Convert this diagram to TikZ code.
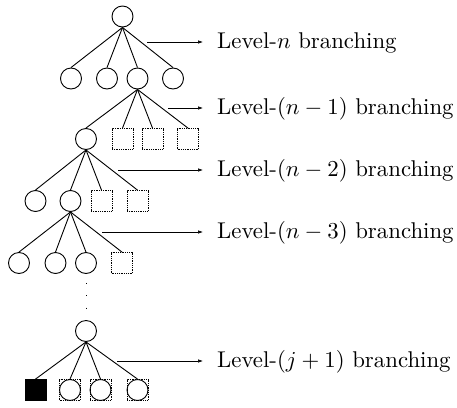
\documentclass[tikz,border=0pt]{standalone}
\usetikzlibrary{arrows.meta}
\begin{document}
\begin{tikzpicture}[x=1pt,y=-1pt,
  full/.style={circle,draw,line width=0.9pt,minimum size=21pt,inner sep=0pt},
  ghost/.style={rectangle,draw,densely dotted,line width=0.8pt,minimum size=21pt,inner sep=0pt},
  blk/.style={rectangle,draw,fill=black,line width=0.8pt,minimum size=21pt,inner sep=0pt},
  edge/.style={line width=0.9pt},
  pointer/.style={line width=0.6pt,-{Latex[length=5pt,width=3.5pt]}},
  lbl/.style={anchor=base west,inner sep=0pt}
]
\newcommand{\bigtxt}[1]{\scalebox{2.28}{\fontsize{10}{12}\selectfont #1}}
\useasboundingbox (0,0) rectangle (457,407);
% level 0
\node[full] (r) at (122.5,16.5) {};
% level 1
\node[full] (a1) at (71,78.5) {};
\node[full] (a2) at (107,78.5) {};
\node[full] (a3) at (137.5,78.5) {};
\node[full] (a4) at (173,78.5) {};
\foreach \c in {a1,a2,a3,a4} \draw[edge] (r.south) -- (\c.north);
% level 2
\node[full] (b1) at (86,139) {};
\node[ghost] (b2) at (122.5,139) {};
\node[ghost] (b3) at (152.5,139) {};
\node[ghost] (b4) at (188,139) {};
\foreach \c in {b1,b2,b3,b4} \draw[edge] (a3.south) -- (\c.north);
% level 3
\node[full] (c1) at (35.5,201) {};
\node[full] (c2) at (70.5,201) {};
\node[ghost] (c3) at (101.5,201) {};
\node[ghost] (c4) at (137.5,201) {};
\foreach \c in {c1,c2,c3,c4} \draw[edge] (b1.south) -- (\c.north);
% level 4
\node[full] (d1) at (19,263) {};
\node[full] (d2) at (55.5,263) {};
\node[full] (d3) at (86,263) {};
\node[ghost] (d4) at (122,263) {};
\foreach \c in {d1,d2,d3,d4} \draw[edge] (c2.south) -- (\c.north);
% level j
\node[full] (e) at (86,331) {};
\draw[line width=1pt,dash pattern=on 1.2pt off 11.1pt,shorten <=9pt,shorten >=0.5pt] (d3.south) -- (e.north);
% bottom row
\node[blk] (f1) at (35.5,390) {};
\node[ghost] (g2) at (70,390) {};
\node[ghost] (g3) at (100.5,390) {};
\node[ghost] (g4) at (137.5,390) {};
\node[full] (f2) at (70,390) {};
\node[full] (f3) at (100.5,390) {};
\node[full] (f4) at (137.5,390) {};
\foreach \c in {f1,f2,f3,f4} \draw[edge] (e.south) -- (\c.north);
% pointers and labels
\coordinate (s1) at (147,42);  \coordinate (t1) at (203,42);
\coordinate (s2) at (168,108); \coordinate (t2) at (203,108);
\coordinate (s3) at (118,170); \coordinate (t3) at (203,170);
\coordinate (s4) at (102,232); \coordinate (t4) at (203,232);
\coordinate (s5) at (117,361); \coordinate (t5) at (203,361);
\foreach \i in {1,...,5} \draw[pointer] (s\i) -- (t\i);
\node[lbl] (l1) at ([xshift=14pt,yshift=-6pt]t1) {\bigtxt{Level-$n$ branching}};
\node[lbl] (l2) at ([xshift=14pt,yshift=-6pt]t2) {\bigtxt{Level-$(n-1)$ branching}};
\node[lbl] (l3) at ([xshift=14pt,yshift=-6pt]t3) {\bigtxt{Level-$(n-2)$ branching}};
\node[lbl] (l4) at ([xshift=14pt,yshift=-6pt]t4) {\bigtxt{Level-$(n-3)$ branching}};
\node[lbl] (l5) at ([xshift=14pt,yshift=-6pt]t5) {\bigtxt{Level-$(j+1)$ branching}};
\end{tikzpicture}
\end{document}
